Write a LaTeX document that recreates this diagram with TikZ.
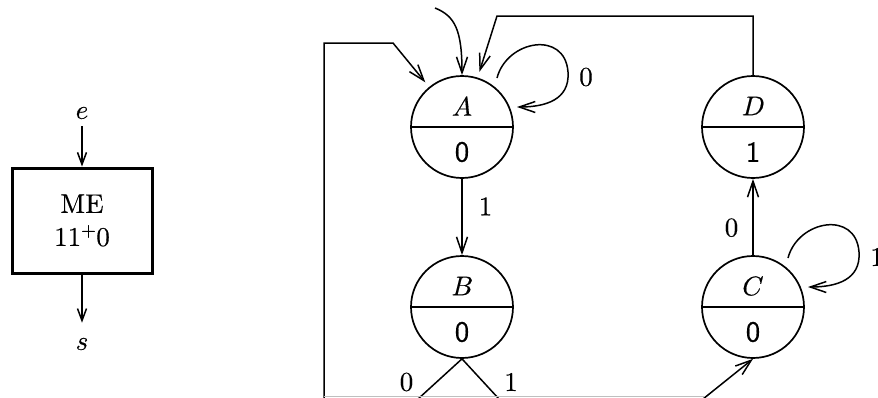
\documentclass[tikz,border=0pt]{standalone}
\usepackage{fontspec}
\usepackage{unicode-math}
\setmainfont{lmroman10-regular.otf}[ItalicFont=lmroman10-italic.otf, BoldFont=lmroman10-bold.otf, FakeBold=0.4]
\setsansfont{lmsans10-regular.otf}[FakeBold=0.4]
\setmathfont{Latin Modern Math}[FakeBold=0.4]
\usetikzlibrary{arrows.meta,calc}
\begin{document}
\begin{tikzpicture}[x=1pt,y=-1pt,
  every node/.style={font=\fontsize{27}{33}\selectfont, inner sep=0pt},
  st/.style={circle, draw, line width=1.7pt, minimum size=102pt},
  outp/.style={font=\fontsize{29}{35}\selectfont\sffamily},
  tr/.style={line width=1.5pt, -{Straight Barb[length=16pt,width=11pt,line width=1.5pt]}},
  io/.style={line width=1.5pt, -{Straight Barb[length=12pt,width=9pt,line width=1.5pt]}},
  ln/.style={line width=1.5pt},
]
\useasboundingbox (0,0) rectangle (878,397);
\clip (0,0) rectangle (878,397);

% left block
\node (e) at (82,113) {$e$};
\node[draw, line width=3pt, minimum width=140pt, minimum height=105pt, align=center] (me) at (82,220.5) {ME\\11$^+$0};
\node (s) at (82,344) {$s$};
\draw[io] ($(e.south)+(0,7)$) -- (me.north);
\draw[io] (me.south) -- ($(s.north)+(0,-15)$);

% states
\node[st] (A) at (462,127) {};
\node[st] (B) at (462,307) {};
\node[st] (C) at (753,307) {};
\node[st] (D) at (753,127) {};
\foreach \n/\v in {A/0,B/0,C/0,D/1}{
  \draw[ln] (\n.west) -- (\n.east);
  \node (\n name) at ($(\n)+(0,-21)$) {$\n$};
  \node[outp] (\n out) at ($(\n)+(0,25)$) {\v};
}

% transitions
\draw[tr] (A.south) -- (B.north) node[pos=0.36, right=16pt] (lab1) {1};
\draw[tr] (C.north) -- (D.south) node[pos=0.36, left=14pt] (lab2) {0};

\coordinate (d1) at (753,16);
\coordinate (d2) at (497,16);
\draw[tr, shorten >=6pt] (D.north) -- (d1) -- (d2) -- (A);

\coordinate (l0) at (324,400);
\coordinate (l1) at (324,43);
\coordinate (l2) at (393,43);
\draw[tr, shorten >=6pt] (l0) -- (l1) -- (l2) -- (A);

\coordinate (i0) at (435,8);
\draw[tr] (i0) .. controls (455,16) and (462,30) .. (A.north);

% self loops
\foreach \n/\v in {A/0,C/1}{
  \draw[tr] ($(\n)+(35,-49)$) .. controls ($(\n)+(45,-87)$) and ($(\n)+(103,-97)$) .. ($(\n)+(106,-55)$)
     .. controls ($(\n)+(108,-27)$) and ($(\n)+(83,-20)$) .. ($(\n)+(55,-20)$);
  \node (\n loop) at ($(\n)+(124,-50)$) {\v};
}

% from B downward
\coordinate (b0) at (418,399);
\coordinate (b1) at (499,399);
\draw[ln] (B.south) -- (b0);
\draw[ln] (B.south) -- (b1);
\node (lab3) at (406.5,382) {0};
\node (lab4) at (511,382) {1};

% into C from below
\coordinate (c0) at (703,399);
\draw[tr] (c0) -- (C.south);

% faint bottom line
\draw[black!25, line width=0.6pt] (324,396.6) -- (705,396.6);
\end{tikzpicture}
\end{document}
